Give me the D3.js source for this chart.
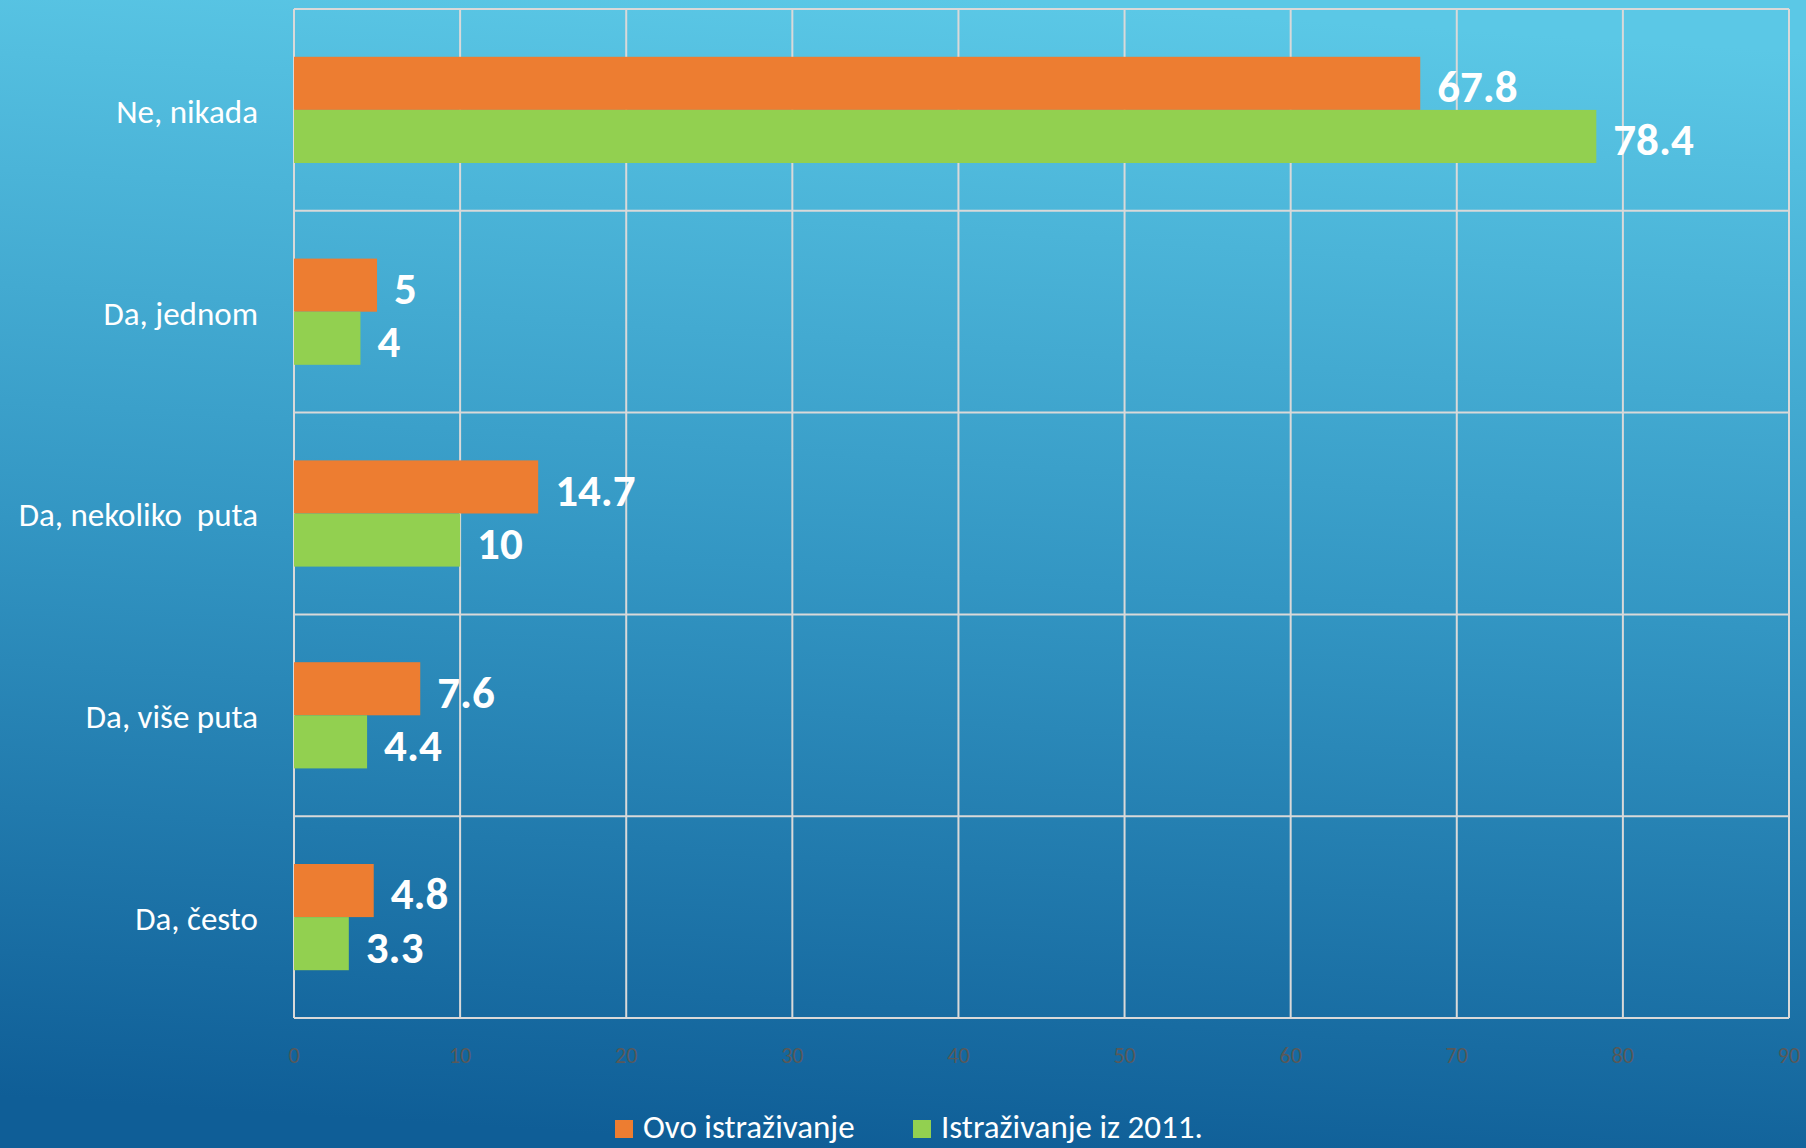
<!DOCTYPE html>
<html>
<head>
<meta charset="utf-8">
<script src="https://cdn.jsdelivr.net/npm/d3@7"></script>
<style>
  html, body { margin: 0; padding: 0; overflow: hidden; }
  svg { display: block; }
  text { font-family: Carlito, Lato, sans-serif; }
</style>
</head>
<body>
<script>
// ---- data ----
let categories = ['Ne, nikada', 'Da, jednom', 'Da, nekoliko  puta', 'Da, više puta', 'Da, često'];
let seriesNames = ['Ovo istraživanje', 'Istraživanje iz 2011.'];
let ovoValues = [67.8, 5, 14.7, 7.6, 4.8];
let iz2011Values = [78.4, 4, 10, 4.4, 3.3];
let xTicks = [0, 10, 20, 30, 40, 50, 60, 70, 80, 90];
let seriesColors = ['#ED7D31', '#92D050'];

let width = 1806, height = 1148;
let margin = { top: 9, right: 17, bottom: 130, left: 294 };

let svg = d3.select('body')
    .append('svg')
        .attr('width', width)
        .attr('height', height);

// background gradient
let grad = svg.append('defs').append('linearGradient')
    .attr('id', 'bg')
    .attr('x1', '0.55').attr('y1', '0')
    .attr('x2', '0.45').attr('y2', '1');
grad.append('stop').attr('offset', '0').attr('stop-color', '#5BC8E6');
grad.append('stop').attr('offset', '0.5').attr('stop-color', '#3396C3');
grad.append('stop').attr('offset', '1').attr('stop-color', '#0F5E97');

svg.append('rect')
    .attr('width', width)
    .attr('height', height)
    .attr('fill', 'url(#bg)');

let x = d3.scaleLinear()
    .domain([0, 90])
    .range([margin.left, width - margin.right]);

let y = d3.scaleBand()
    .domain(categories)
    .range([margin.top, height - margin.bottom]);

let ySub = d3.scaleBand()
    .domain(seriesNames)
    .range([0, y.bandwidth()])
    .paddingOuter(0.9);

// ---- grid ----
let grid = svg.append('g').attr('stroke', '#D9D9D9').attr('stroke-width', 2);

grid.selectAll('line.v')
    .data(xTicks).enter()
    .append('line')
        .attr('class', 'v')
        .attr('x1', d => x(d)).attr('x2', d => x(d))
        .attr('y1', margin.top).attr('y2', height - margin.bottom);

let hLines = categories.map(c => y(c)).concat([height - margin.bottom]);
grid.selectAll('line.h')
    .data(hLines).enter()
    .append('line')
        .attr('class', 'h')
        .attr('x1', x(0)).attr('x2', x(90))
        .attr('y1', d => d).attr('y2', d => d);

// ---- bars ----
let rows = categories.map((c, i) => ({
    cat: c,
    vals: [ovoValues[i], iz2011Values[i]]
}));

let groups = svg.selectAll('g.cat')
    .data(rows).enter()
    .append('g')
        .attr('class', 'cat')
        .attr('transform', d => 'translate(0,' + y(d.cat) + ')');

groups.selectAll('rect')
    .data(d => d.vals.map((v, j) => ({ v: v, s: seriesNames[j], j: j }))).enter()
    .append('rect')
        .attr('x', x(0))
        .attr('y', d => ySub(d.s))
        .attr('width', d => x(d.v) - x(0))
        .attr('height', ySub.bandwidth())
        .attr('fill', d => seriesColors[d.j]);

groups.selectAll('text.val')
    .data(d => d.vals.map((v, j) => ({ v: v, s: seriesNames[j], j: j }))).enter()
    .append('text')
        .attr('class', 'val')
        .attr('x', d => x(d.v) + 17)
        .attr('y', d => ySub(d.s) + ySub.bandwidth() / 2 + 8)
        .attr('dominant-baseline', 'middle')
        .attr('font-size', 45)
        .attr('font-weight', 'bold')
        .attr('fill', '#FFFFFF')
        .text(d => d.v);

// ---- category labels ----
svg.append('g').selectAll('text')
    .data(categories).enter()
    .append('text')
        .attr('x', 258)
        .attr('y', d => y(d) + y.bandwidth() / 2 + 5)
        .attr('text-anchor', 'end')
        .attr('dominant-baseline', 'middle')
        .attr('font-size', 33)
        .attr('fill', '#FFFFFF')
        .style('white-space', 'pre')
        .text(d => d);

// ---- x tick labels ----
svg.append('g').selectAll('text')
    .data(xTicks).enter()
    .append('text')
        .attr('x', d => x(d))
        .attr('y', 1058)
        .attr('text-anchor', 'middle')
        .attr('dominant-baseline', 'middle')
        .attr('font-size', 22)
        .attr('fill', '#595959')
        .text(d => d);

// ---- legend ----
let legendX = [615, 913];
let legend = svg.append('g').selectAll('g')
    .data(seriesNames).enter()
    .append('g')
        .attr('transform', (d, i) => 'translate(' + legendX[i] + ',1128)');

legend.append('rect')
    .attr('x', 0).attr('y', -8)
    .attr('width', 18).attr('height', 18)
    .attr('fill', (d, i) => seriesColors[i]);

legend.append('text')
    .attr('x', 28)
    .attr('y', 2)
    .attr('dominant-baseline', 'middle')
    .attr('font-size', 33)
    .attr('fill', '#FFFFFF')
    .text(d => d);
</script>
</body>
</html>
